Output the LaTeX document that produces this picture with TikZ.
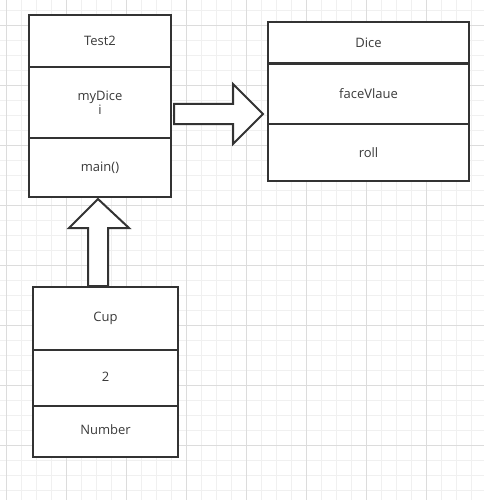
\documentclass[tikz,border=0pt]{standalone}
\usepackage{fontspec}
\setmainfont{Open Sans}
\usetikzlibrary{calc}
\definecolor{ink}{HTML}{333333}
\definecolor{txt}{HTML}{3A3A3A}
\definecolor{gmajor}{HTML}{DCDCDC}
\definecolor{gminor}{HTML}{F0F0F0}
\tikzset{
  cell/.style={draw=ink, line width=2pt, fill=white, inner sep=0pt, align=center,
    font=\fontsize{13}{15.5}\selectfont, text=txt},
  blk/.style={draw=ink, line width=2pt, fill=white, line join=miter},
  gmin/.style={draw=gminor, line width=0.8pt},
  gmaj/.style={draw=gmajor, line width=0.9pt}
}
\begin{document}
\begin{tikzpicture}[x=1pt,y=-1pt]
\useasboundingbox (0,0) rectangle (484,500);
\fill[white] (0,0) rectangle (484,500);
% grid
\foreach \x in {6,21,...,484} \draw[gmin] (\x,0) -- (\x,500);
\foreach \y in {10,25,...,500} \draw[gmin] (0,\y) -- (484,\y);
\foreach \x in {6,66,...,484} \draw[gmaj] (\x,0) -- (\x,500);
\foreach \y in {25,85,...,500} \draw[gmaj] (0,\y) -- (484,\y);

% Test2
\node[cell, minimum width=142pt, minimum height=52pt] (t2t) at (100,41) {Test2};
\node[cell, minimum width=142pt, minimum height=71pt] (t2m) at (100,102.5) {myDice\\[-1pt]i};
\node[cell, minimum width=142pt, minimum height=59pt] (t2b) at (100,167.5) {main()};

% Dice
\node[cell, minimum width=201pt, minimum height=41pt] (dt) at (368.5,42.5) {Dice};
\node[cell, minimum width=201pt, minimum height=61pt] (dm) at (368.5,93.5) {faceVlaue};
\node[cell, minimum width=201pt, minimum height=57pt] (db) at (368.5,152.5) {roll};
\draw[ink, line width=2.8pt] (dt.south west) -- (dt.south east);

% Cup
\node[cell, minimum width=145pt, minimum height=63pt] (ct) at (105.5,318.5) {\raisebox{-2pt}{Cup}};
\node[cell, minimum width=145pt, minimum height=56pt] (cm) at (105.5,378) {\raisebox{2pt}{2}};
\node[cell, minimum width=145pt, minimum height=51pt] (cb) at (105.5,431.5) {\raisebox{4pt}{Number}};

% block arrow Test2 -> Dice
\path (t2m.east) ++(2,11.5) coordinate (ra);
\path ($(dm.west |- ra)+(-4,0)$) coordinate (rtip);
\draw[blk] ($(ra)+(0,-10)$) -- ($(rtip)+(-30,-10)$) -- ($(rtip)+(-30,-30)$)
  -- (rtip) -- ($(rtip)+(-30,30)$) -- ($(rtip)+(-30,10)$) -- ($(ra)+(0,10)$) -- cycle;

% block arrow Cup -> Test2
\path (t2b.south) ++(-2,1) coordinate (uptip);
\draw[blk] (uptip) -- ++(31,29) -- ++(-21,0) coordinate (s1)
  -- (s1 |- ct.north) -- ++(-20,0) coordinate (s2)
  -- (s2 |- s1) -- ++(-19,0) -- cycle;
\end{tikzpicture}
\end{document}
